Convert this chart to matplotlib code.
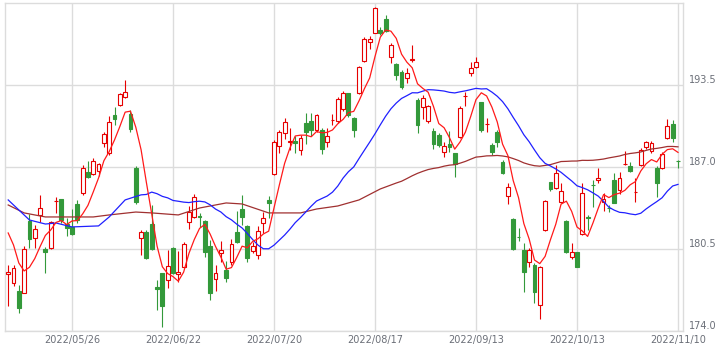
import numpy as np
import pandas as pd
import matplotlib
matplotlib.use("Agg")
import matplotlib.pyplot as plt

# ---- data -------------------------------------------------------------
holidays = ["2022-07-18", "2022-08-11", "2022-09-19", "2022-09-23",
            "2022-10-10", "2022-11-03"]
dates = pd.bdate_range("2022-05-10", "2022-11-10", freq="C", holidays=holidays)

opens = [178.55, 177.81, 177.17, 177.01, 182.72, 181.37, 183.20, 180.50, 180.58, 184.28,
         184.47, 182.48, 182.25, 184.07, 184.94, 186.61, 186.45, 186.68, 188.91, 188.11,
         191.12, 191.92, 192.55, 191.20, 186.92, 181.37, 181.85, 182.48, 177.49, 178.60,
         178.04, 180.58, 178.52, 179.07, 182.64, 183.04, 183.08, 182.72, 180.74, 178.12,
         180.18, 178.84, 179.47, 181.85, 183.67, 182.33, 180.34, 180.03, 182.56, 184.39,
         186.45, 188.67, 189.70, 189.02, 189.06, 188.35, 190.49, 190.65, 189.93, 189.93,
         188.98, 190.70, 190.65, 191.60, 192.87, 190.89, 192.87, 195.40, 196.91, 197.62,
         197.86, 198.73, 195.72, 195.17, 194.53, 194.06, 195.52, 192.31, 191.76, 190.65,
         189.86, 189.54, 188.19, 188.83, 188.11, 189.38, 192.60, 194.45, 194.93, 192.15,
         190.39, 188.75, 189.78, 187.40, 184.70, 182.88, 181.48, 180.42, 179.47, 179.23,
         176.06, 182.01, 185.81, 185.34, 184.23, 182.72, 179.87, 180.26, 181.69, 183.00,
         185.60, 185.97, 184.23, 183.78, 185.97, 185.18, 187.22, 187.08, 185.00, 187.16,
         188.59, 188.27, 186.92, 186.92, 189.30, 190.41, 187.50]
highs = [179.23, 179.23, 177.65, 180.74, 183.28, 182.40, 184.78, 180.66, 182.72, 184.62,
         184.47, 182.96, 183.67, 184.39, 187.16, 187.48, 187.72, 187.32, 189.78, 191.04,
         191.76, 192.87, 193.90, 191.52, 187.08, 182.01, 182.01, 183.99, 178.04, 178.60,
         180.42, 180.66, 180.34, 181.06, 183.91, 184.86, 183.36, 182.80, 181.22, 179.23,
         181.14, 179.55, 181.29, 183.51, 184.78, 182.40, 181.06, 182.33, 183.43, 184.70,
         189.14, 189.93, 190.89, 190.09, 189.46, 189.54, 191.28, 191.28, 191.20, 190.09,
         190.09, 191.20, 192.55, 193.03, 192.87, 190.97, 195.01, 197.31, 197.39, 199.69,
         198.10, 199.05, 196.83, 195.25, 194.69, 194.85, 196.67, 192.47, 192.71, 191.92,
         190.09, 189.70, 188.98, 189.86, 188.11, 191.84, 192.95, 195.33, 195.72, 192.15,
         190.89, 188.91, 189.93, 187.56, 185.73, 182.96, 182.17, 180.98, 180.58, 179.39,
         179.16, 184.39, 185.81, 187.16, 185.73, 182.80, 180.98, 180.26, 185.73, 183.20,
         185.97, 186.92, 184.94, 183.99, 186.53, 186.61, 188.27, 187.40, 186.13, 188.51,
         189.06, 189.06, 187.08, 188.19, 190.81, 190.73, 187.56]
lows = [175.98, 177.57, 175.43, 177.01, 180.58, 180.58, 182.64, 178.60, 180.50, 183.36,
        182.56, 181.53, 181.61, 182.56, 184.78, 186.13, 186.37, 186.29, 188.59, 187.95,
        190.33, 191.84, 192.47, 189.78, 184.07, 180.03, 179.71, 180.42, 175.67, 174.32,
        177.41, 178.52, 177.89, 179.00, 182.09, 182.96, 182.25, 179.87, 176.46, 177.17,
        179.47, 177.89, 179.23, 180.98, 182.40, 179.47, 180.18, 179.71, 181.77, 182.96,
        186.37, 188.11, 189.22, 188.35, 188.11, 187.95, 188.83, 189.46, 189.78, 188.03,
        188.59, 190.33, 190.49, 191.44, 190.97, 189.38, 192.79, 195.33, 196.36, 197.62,
        197.47, 197.70, 195.25, 193.90, 193.18, 193.66, 195.33, 189.70, 190.81, 190.49,
        188.43, 188.59, 187.79, 188.19, 186.21, 189.30, 191.84, 194.22, 194.85, 189.78,
        189.78, 187.95, 188.59, 186.45, 184.07, 180.42, 181.14, 177.09, 179.07, 176.22,
        174.95, 181.93, 185.10, 185.26, 184.15, 180.18, 179.71, 179.07, 181.61, 182.01,
        183.83, 185.73, 183.51, 183.43, 184.15, 184.86, 187.16, 186.61, 184.23, 187.08,
        188.43, 188.11, 184.62, 186.84, 189.22, 188.98, 186.92]
closes = [178.65, 179.00, 175.82, 180.50, 181.29, 182.09, 183.75, 180.26, 182.64, 184.31,
          182.80, 182.17, 181.69, 182.80, 186.92, 186.21, 187.48, 187.24, 189.62, 190.57,
          190.81, 192.79, 192.95, 190.01, 184.23, 181.85, 179.79, 180.50, 177.33, 175.98,
          179.16, 178.60, 178.68, 180.90, 183.43, 184.62, 183.04, 180.26, 177.01, 178.60,
          180.42, 178.20, 180.90, 181.06, 183.04, 179.79, 180.74, 181.93, 182.96, 184.15,
          188.98, 189.78, 190.57, 189.06, 188.91, 189.30, 189.78, 189.93, 191.12, 188.43,
          189.46, 190.73, 192.39, 192.87, 191.12, 189.93, 194.93, 197.15, 197.15, 199.61,
          197.62, 197.78, 196.67, 194.30, 193.34, 194.45, 195.56, 190.33, 192.47, 191.84,
          188.83, 188.75, 188.67, 188.59, 187.24, 191.68, 192.63, 194.85, 195.33, 189.93,
          190.41, 188.19, 188.98, 186.53, 185.42, 180.50, 181.45, 178.68, 180.42, 177.09,
          179.07, 184.31, 185.26, 186.53, 185.10, 180.26, 180.26, 179.07, 184.94, 182.96,
          185.57, 186.13, 184.47, 183.75, 184.15, 186.13, 187.24, 186.68, 185.02, 188.35,
          188.98, 188.91, 185.73, 188.03, 190.25, 189.30, 187.48]

ma5_head_idx = [0, 1, 2, 3]
ma5_head_val = [181.77, 180.82, 179.39, 178.76]
ma25_head_idx = [0, 4, 7, 9, 12, 17, 19, 22]
ma25_head_val = [184.39, 182.80, 182.48, 182.56, 182.25, 182.33, 183.04, 184.39]
ma75_head_idx = [0, 3, 7, 11, 16, 19, 24, 27, 32, 36, 41, 44, 49, 55, 58, 62, 66, 70, 73]
ma75_head_val = [183.99, 183.36, 183.04, 183.04, 183.04, 183.20, 183.43, 183.36, 183.20,
                 183.75, 184.15, 184.07, 183.36, 183.36, 183.67, 183.91, 184.39, 185.26,
                 185.73]

yticks = [174.0, 180.5, 187.0, 193.5]
ylim = (174.0, 200.0)

# ---- styling ----------------------------------------------------------
UP = "#e60000"
DOWN = "#33993a"
MA5_C = "#ff1a1a"
MA25_C = "#2020ff"
MA75_C = "#a03030"
GRID = "#dcdcdc"
TXT = "#6b6f78"

plt.rcParams["font.family"] = ["DejaVu Sans"]

fig = plt.figure(figsize=(7.17, 3.51), dpi=100)
ax = fig.add_axes([5 / 717, 20 / 351, 678 / 717, 328 / 351])

o = np.array(opens); h = np.array(highs); l = np.array(lows); c = np.array(closes)
n = len(c)
x = np.arange(n)
up = c >= o
col = np.where(up, UP, DOWN)
face = np.where(up, "white", DOWN)

ax.vlines(x, l, h, colors=col, linewidth=0.8, zorder=2)
ax.bar(x, np.maximum(np.abs(c - o), 0.03), bottom=np.minimum(o, c), width=0.72,
       color=face, edgecolor=col, linewidth=0.8, zorder=3)

cs = pd.Series(c)
ma5 = cs.rolling(5).mean()
ma25 = cs.rolling(25).mean()
ma75 = cs.rolling(75).mean()


def line(head_idx, head_val, ma, color):
    xs = list(head_idx) + list(x[ma.notna()])
    ys = list(head_val) + list(ma[ma.notna()])
    ax.plot(xs, ys, color=color, linewidth=0.9, zorder=4)


line(ma75_head_idx, ma75_head_val, ma75, MA75_C)
line(ma25_head_idx, ma25_head_val, ma25, MA25_C)
line(ma5_head_idx, ma5_head_val, ma5, MA5_C)

# axes
ax.set_xlim(-0.6, n - 0.06)
ax.set_ylim(*ylim)
tick_idx = list(range(12, n, 19))
ax.set_xticks(tick_idx)
ax.set_xticklabels([dates[i].strftime("%Y/%m/%d") for i in tick_idx])
ax.set_yticks(yticks)
ax.set_yticklabels([f"{v:.1f}" for v in yticks])
ax.yaxis.tick_right()
for lab in ax.get_yticklabels():
    lab.set_verticalalignment("bottom")
ax.tick_params(axis="both", length=0, labelsize=7, colors=TXT)
ax.tick_params(axis="y", pad=4)
ax.tick_params(axis="x", pad=3)
ax.grid(True, color=GRID, linewidth=1.0, zorder=0)
ax.set_axisbelow(True)
for s in ax.spines.values():
    s.set_color(GRID)
    s.set_linewidth(1.0)

fig.savefig("out.png", dpi=100)
